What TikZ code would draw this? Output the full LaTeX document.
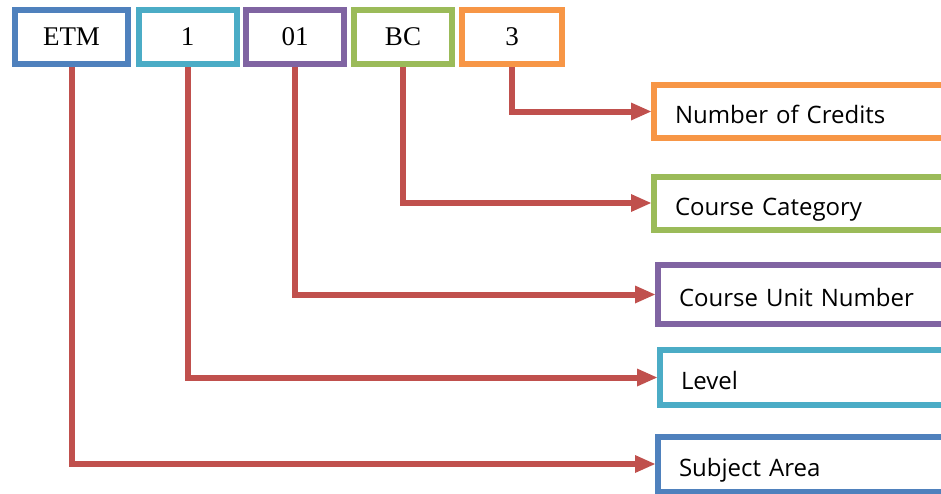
\documentclass[tikz,border=0pt]{standalone}
\usepackage{fontspec}
\setmainfont{Liberation Serif}
\newfontfamily\labelfont{Open Sans}
\usetikzlibrary{arrows.meta}
\definecolor{oblue}{HTML}{4F81BD}
\definecolor{oaqua}{HTML}{4BACC6}
\definecolor{opurple}{HTML}{8064A2}
\definecolor{ogreen}{HTML}{9BBB59}
\definecolor{oorange}{HTML}{F79646}
\definecolor{ored}{HTML}{C0504D}

\begin{document}
\begin{tikzpicture}[x=1pt,y=-1pt,line width=6pt,
  code box/.style={draw,fill=white,minimum height=54pt,minimum width=98pt,font=\fontsize{27}{30}\selectfont},
  part box/.style={draw,fill=white,anchor=west,minimum height=53pt,text width=280pt,text height=24pt,text depth=0pt,align=left,inner xsep=21pt,font=\labelfont\fontsize{24}{27}\selectfont},
  link/.style={draw=ored,line width=6pt,-{Triangle[length=20pt,width=18pt,line width=0pt]}}]
  \useasboundingbox (0,0) rectangle (941,493);
  \node[code box,draw=oblue,minimum width=113pt] (etm) at (71.5,37) {ETM};
  \node[code box,draw=oaqua] (lvl) at (187.5,37) {1};
  \node[code box,draw=opurple] (unit) at (295,37) {01};
  \node[code box,draw=ogreen] (cat) at (403,37) {BC};
  \node[code box,draw=oorange,minimum width=100pt] (cred) at (512,37) {3};
  \node[part box,draw=oorange] (credits) at (651,111.5) {Number of Credits};
  \node[part box,draw=ogreen] (category) at (651,203) {Course Category};
  \node[part box,draw=opurple,minimum height=59pt] (unitno) at (655,294.5) {Course Unit Number};
  \node[part box,draw=oaqua,minimum height=55pt] (level) at (657,377.5) {Level};
  \node[part box,draw=oblue,minimum height=55pt] (subject) at (655,464) {Subject Area};
  % code parts to their meaning
  \draw[link] (cred) |- (credits);
  \draw[link] (cat) |- (category);
  \draw[link] (unit) |- (unitno);
  \draw[link] (lvl) |- (level);
  \draw[link] (etm) |- (subject);
\end{tikzpicture}
\end{document}
